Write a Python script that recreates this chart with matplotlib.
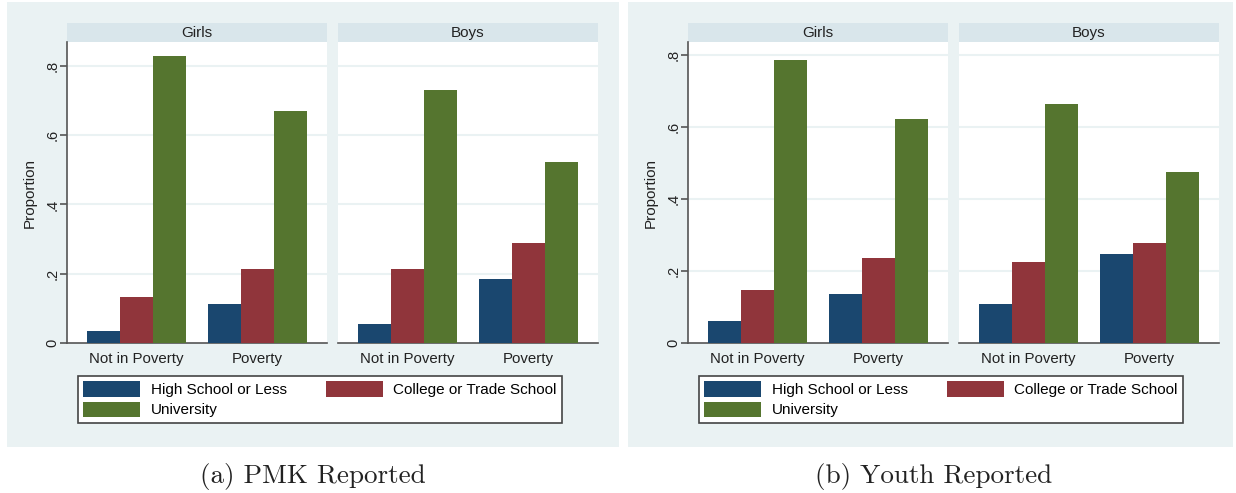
import matplotlib
matplotlib.use("Agg")
import matplotlib.pyplot as plt
from matplotlib.patches import Rectangle, Patch
import numpy as np

W, H = 1236, 493
DPI = 100

# ---------------- data ----------------
groups = ["Not in Poverty", "Poverty"]
sexes = ["Girls", "Boys"]
series = ["High School or Less", "College or Trade School", "University"]

# PMK reported
pmk_girls_hs = [0.035, 0.114]
pmk_girls_col = [0.133, 0.215]
pmk_girls_uni = [0.829, 0.669]
pmk_boys_hs = [0.055, 0.184]
pmk_boys_col = [0.213, 0.290]
pmk_boys_uni = [0.731, 0.523]

# Youth reported
yth_girls_hs = [0.063, 0.138]
yth_girls_col = [0.147, 0.238]
yth_girls_uni = [0.787, 0.622]
yth_boys_hs = [0.108, 0.247]
yth_boys_col = [0.226, 0.277]
yth_boys_uni = [0.664, 0.474]

yticks = [0, 0.2, 0.4, 0.6, 0.8]
yticklabels = ["0", ".2", ".4", ".6", ".8"]
captions = ["(a) PMK Reported", "(b) Youth Reported"]

colors = ["#1a476f", "#90353b", "#55752f"]
BG = "#eaf2f3"
STRIP = "#d9e6eb"
GRID = "#eaf2f3"
AXC = "#555555"

plt.rcParams["font.family"] = ["Liberation Sans", "DejaVu Sans"]

fig = plt.figure(figsize=(W / DPI, H / DPI), dpi=DPI)


def fr(x0, y0, x1, y1):
    """pixel box (top-left origin) -> figure fraction [l, b, w, h]"""
    return [x0 / W, 1 - y1 / H, (x1 - x0) / W, (y1 - y0) / H]


panels = [
    dict(off=0, bg=(7, 2, 619, 447), top=0.868,
         data=[[pmk_girls_hs, pmk_girls_col, pmk_girls_uni],
               [pmk_boys_hs, pmk_boys_col, pmk_boys_uni]], cap=captions[0], capx=313),
    dict(off=621, bg=(628, 2, 1233, 447), top=0.836,
         data=[[yth_girls_hs, yth_girls_col, yth_girls_uni],
               [yth_boys_hs, yth_boys_col, yth_boys_uni]], cap=captions[1], capx=934),
]

group_start = [0, 3.667]
xl = (-1.106, 6.773)

for p in panels:
    o = p["off"]
    bx0, by0, bx1, by1 = p["bg"]
    fig.patches.append(Rectangle((bx0 / W, 1 - by1 / H), (bx1 - bx0) / W, (by1 - by0) / H,
                                 transform=fig.transFigure, facecolor=BG, edgecolor="none",
                                 zorder=-10))
    for si, sex in enumerate(sexes):
        x0 = 67 + o + si * 271
        x1 = x0 + 260
        sax = fig.add_axes(fr(x0, 23, x1, 42))
        sax.set_facecolor(STRIP)
        sax.set_xticks([]); sax.set_yticks([])
        for s in sax.spines.values():
            s.set_visible(False)
        sax.text(0.5, 0.45, sex, ha="center", va="center", fontsize=11, color="#222222",
                 transform=sax.transAxes)
        ax = fig.add_axes(fr(x0, 42, x1, 343.3))
        ax.set_facecolor("white")
        vals = p["data"][si]
        for k in range(3):
            xs = [g + k for g in group_start]
            ax.bar(xs, vals[k], width=1.0, color=colors[k], linewidth=0, zorder=3)
        ax.set_xlim(*xl)
        ax.set_ylim(0, p["top"])
        for yv in yticks[1:]:
            ax.axhline(yv, color=GRID, lw=1.5, zorder=1)
        ax.set_xticks([g + 1 for g in group_start])
        ax.set_xticklabels(groups, fontsize=10.8, color="#222222")
        ax.tick_params(axis="x", length=0, pad=6)
        for side in ["top", "right"]:
            ax.spines[side].set_visible(False)
        ax.spines["bottom"].set_color(AXC)
        ax.spines["bottom"].set_linewidth(1.2)
        if si == 0:
            ax.spines["left"].set_color(AXC)
            ax.spines["left"].set_linewidth(1.2)
            ax.set_yticks(yticks)
            ax.set_yticklabels(yticklabels, fontsize=10.5, color="#222222", rotation=90,
                               va="center")
            ax.tick_params(axis="y", length=5, color=AXC, width=1.2, pad=0.5)
            ax.set_ylabel("Proportion", fontsize=11, color="#222222", labelpad=6)
        else:
            ax.spines["left"].set_visible(False)
            ax.set_yticks([])
    handles = [Patch(facecolor=colors[0], edgecolor="none"),
               Patch(facecolor=colors[2], edgecolor="none"),
               Patch(facecolor=colors[1], edgecolor="none")]
    labels = [series[0], series[2], series[1]]
    lx0, ly0, lx1, ly1 = 78 + o, 376, 562 + o, 424
    leg = fig.legend(handles, labels, loc="upper left", ncol=2, mode="expand",
                     bbox_to_anchor=(lx0 / W, 1 - ly1 / H, (lx1 - lx0) / W, (ly1 - ly0) / H),
                     fontsize=11, handlelength=3.7, handleheight=1.15, labelspacing=0.3,
                     handletextpad=0.7, borderpad=0.35, borderaxespad=0.0, frameon=True,
                     fancybox=False, edgecolor="#444444", facecolor="white", framealpha=1)
    leg.get_frame().set_linewidth(1.2)
    fig.text(p["capx"] / W, 1 - 476 / H, p["cap"], ha="center", va="center",
             fontsize=19.5, family=["cmr10", "DejaVu Serif"], color="#222222")

fig.savefig("out.png", dpi=DPI, facecolor="white")
